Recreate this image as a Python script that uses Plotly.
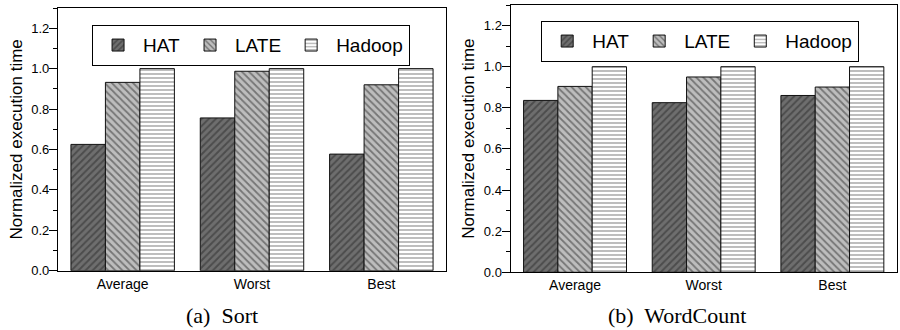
import plotly.graph_objects as go

categories = ["Average", "Worst", "Best"]
series_names = ["HAT", "LATE", "Hadoop"]
sort_hat = [0.625, 0.756, 0.577]
sort_late = [0.932, 0.987, 0.920]
sort_hadoop = [1.0, 1.0, 1.0]
wc_hat = [0.836, 0.825, 0.860]
wc_late = [0.904, 0.950, 0.901]
wc_hadoop = [1.0, 1.0, 1.0]
y_ticks = [0.0, 0.2, 0.4, 0.6, 0.8, 1.0, 1.2]
y_tick_labels = ["0.0", "0.2", "0.4", "0.6", "0.8", "1.0", "1.2"]
subtitles = ["(a)  Sort", "(b)  WordCount"]

styles = {
    "HAT": dict(shape="/", bgcolor="#6e6e6e", fgcolor="#2a2a2a", size=5, solidity=0.4),
    "LATE": dict(shape="\\", bgcolor="#bdbdbd", fgcolor="#2e2e2e", size=5, solidity=0.35),
    "Hadoop": dict(shape="-", bgcolor="#ffffff", fgcolor="#222222", size=4, solidity=0.3),
}

fig = go.Figure()
panels = [
    ("x", "y", "legend", [sort_hat, sort_late, sort_hadoop]),
    ("x2", "y2", "legend2", [wc_hat, wc_late, wc_hadoop]),
]
for xa, ya, lg, vals in panels:
    for name, v in zip(series_names, vals):
        fig.add_trace(go.Bar(
            x=categories, y=v, name=name, xaxis=xa, yaxis=ya, legend=lg,
            marker=dict(color=styles[name]["bgcolor"], pattern=styles[name],
                        line=dict(color="#111111", width=1)),
        ))

font = "Liberation Sans, Arial, sans-serif"

def yax(domain, anchor):
    return dict(domain=domain, anchor=anchor, range=[0, 1.3], tickvals=y_ticks, ticktext=y_tick_labels,
                ticks="outside", ticklen=8, tickwidth=1.2, tickcolor="black",
                minor=dict(dtick=0.1, tick0=0, ticks="outside", ticklen=4, tickcolor="black", showgrid=False),
                showline=True, linecolor="black", linewidth=1.3, mirror=True,
                showgrid=False, zeroline=False, automargin=False, ticklabelstandoff=-3,
                tickfont=dict(size=13, family=font, color="black"),
                title=dict(text="Normalized execution time", font=dict(size=17, family=font, color="black"), standoff=4))

def yright(over, anchor, domain):
    return dict(overlaying=over, anchor=anchor, side="right", domain=domain, range=[0, 1.3],
                tickvals=y_ticks, ticks="inside", ticklen=8, tickwidth=1.2, tickcolor="black",
                minor=dict(dtick=0.1, tick0=0, ticks="inside", ticklen=4, tickcolor="black", showgrid=False),
                showticklabels=False, showgrid=False, zeroline=False, showline=False, automargin=False)

def xax(domain, anchor):
    return dict(domain=domain, anchor=anchor, showline=True, linecolor="black", linewidth=1.3,
                mirror=True, ticks="", showgrid=False, automargin=False,
                tickfont=dict(size=14, family=font, color="black"))

yd1 = [1 - 270.7 / 330, 1 - 8 / 330]
yd2 = [1 - 272.3 / 330, 1 - 5 / 330]
xd1 = [58 / 900, 446 / 900]
xd2 = [510.7 / 900, 896.7 / 900]

legend_common = dict(orientation="h", font=dict(size=19, family=font, color="black"),
                     bgcolor="white", bordercolor="black", borderwidth=1.2,
                     xanchor="center", yanchor="top", itemwidth=40,
                     tracegroupgap=0)

fig.update_layout(
    width=900, height=330, autosize=False,
    margin=dict(l=0, r=0, t=0, b=0, autoexpand=False),
    paper_bgcolor="white", plot_bgcolor="white",
    barmode="group", bargap=0.2, bargroupgap=0,
    xaxis=xax(xd1, "y"),
    yaxis=yax(yd1, "x"),
    xaxis2=xax(xd2, "y2"),
    yaxis2=yax(yd2, "x2"),
    yaxis3=yright("y", "x", yd1),
    yaxis4=yright("y2", "x2", yd2),
    legend=dict(legend_common, x=(96.7 + 405) / 2 / 900, y=1 - 25 / 330),
    legend2=dict(legend_common, x=(538 + 862) / 2 / 900, y=1 - 21 / 330),
    font=dict(family=font),
    showlegend=True,
)

for txt, cx in zip(subtitles, [222, 677]):
    fig.add_annotation(text=txt, x=cx / 900, y=1 - 315 / 330, xref="paper", yref="paper",
                       xanchor="center", yanchor="middle", showarrow=False,
                       font=dict(size=22, family="Liberation Serif, serif", color="black"))

fig.write_html("out.html", config={"responsive": False, "displayModeBar": False},
               post_script="document.body.style.margin='0';document.body.style.overflow='hidden';")
